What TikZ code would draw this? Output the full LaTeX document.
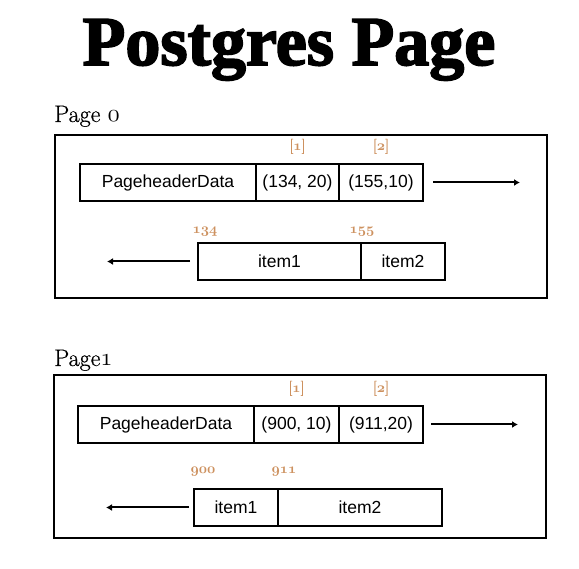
\documentclass[tikz,border=0pt]{standalone}
\usepackage{fontspec}
\usetikzlibrary{positioning,arrows.meta}
\newfontfamily\cellfont{Liberation Sans}
\newfontfamily\titlefont{Liberation Serif}[UprightFont={* Bold},FakeBold=2.5]
\newfontfamily\lblfont{Latin Modern Roman}[FakeBold=0.6]
\definecolor{idxorange}{RGB}{205,145,95}
\newcommand\osf[1]{{\usefont{OML}{cmm}{m}{it}#1}}
\newcommand\osfb[1]{{\usefont{OML}{cmm}{b}{it}#1}}
\begin{document}
\begin{tikzpicture}[x=1pt,y=-1pt,
		cell/.style={draw,line width=1.7pt,inner sep=0pt,outer sep=0pt,minimum height=37pt,
			font=\cellfont\fontsize{17.5}{20}\selectfont},
		pagebox/.style={draw,line width=1.7pt,inner sep=0pt,outer sep=0pt,
			minimum width=492pt,minimum height=163pt,anchor=north west},
		idx/.style={text=idxorange,inner sep=0pt,font=\lblfont\fontsize{15}{17}\selectfont},
		pagelbl/.style={anchor=base west,inner sep=0pt,font=\lblfont\fontsize{24}{27}\selectfont},
		ptr/.style={-{Latex[length=6pt,width=7pt]},line width=2pt}]
		\useasboundingbox (0,0) rectangle (579,569);
		\node[anchor=base,inner sep=0pt,font=\titlefont\fontsize{70}{72}\selectfont] (title) at (289,65) {Postgres Page};
		% page 0
		\node[pagelbl] (lbl0) at (54,122) {Page \osf{0}};
		\node[pagebox] (page0) at (55,135) {};
		\node[cell,minimum width=176pt,anchor=north west] (p0hdr) at (80,164) {PageheaderData};
		\node[cell,minimum width=83pt,right=0pt of p0hdr] (p0lp1) {(134, 20)};
		\node[cell,minimum width=84pt,right=0pt of p0lp1] (p0lp2) {(155,10)};
		\node[idx,above=10pt of p0lp1] (p0n1) {[\osfb{1}]};
		\node[idx,above=10pt of p0lp2] (p0n2) {[\osfb{2}]};
		\coordinate[right=10pt of p0lp2] (p0ra);
		\coordinate[right=97pt of p0lp2] (p0rb);
		\draw[ptr] (p0ra) -- (p0rb);
		\node[cell,minimum width=163pt,anchor=north west] (p0it1) at (198,243) {item1};
		\node[cell,minimum width=84pt,right=0pt of p0it1] (p0it2) {item2};
		\node[idx] (p0o1) at (205,232) {\osfb{134}};
		\node[idx] (p0o2) at (362,232) {\osfb{155}};
		\coordinate[left=8pt of p0it1] (p0la);
		\coordinate[left=91pt of p0it1] (p0lb);
		\draw[ptr] (p0la) -- (p0lb);
		% page 1
		\node[pagelbl] (lbl1) at (54,366) {Page\osf{1}};
		\node[pagebox] (page1) at (54,375) {};
		\node[cell,minimum width=176pt,anchor=north west] (p1hdr) at (78,406) {PageheaderData};
		\node[cell,minimum width=85pt,right=0pt of p1hdr] (p1lp1) {(900, 10)};
		\node[cell,minimum width=84pt,right=0pt of p1lp1] (p1lp2) {(911,20)};
		\node[idx,above=10pt of p1lp1] (p1n1) {[\osfb{1}]};
		\node[idx,above=10pt of p1lp2] (p1n2) {[\osfb{2}]};
		\coordinate[right=8pt of p1lp2] (p1ra);
		\coordinate[right=95pt of p1lp2] (p1rb);
		\draw[ptr] (p1ra) -- (p1rb);
		\node[cell,minimum width=84pt,anchor=north west] (p1it1) at (194,489) {item1};
		\node[cell,minimum width=164pt,right=0pt of p1it1] (p1it2) {item2};
		\node[idx] (p1o1) at (203,472) {\osfb{900}};
		\node[idx] (p1o2) at (284,472) {\osfb{911}};
		\coordinate[left=5pt of p1it1] (p1la);
		\coordinate[left=88pt of p1it1] (p1lb);
		\draw[ptr] (p1la) -- (p1lb);
	\end{tikzpicture}
\end{document}
